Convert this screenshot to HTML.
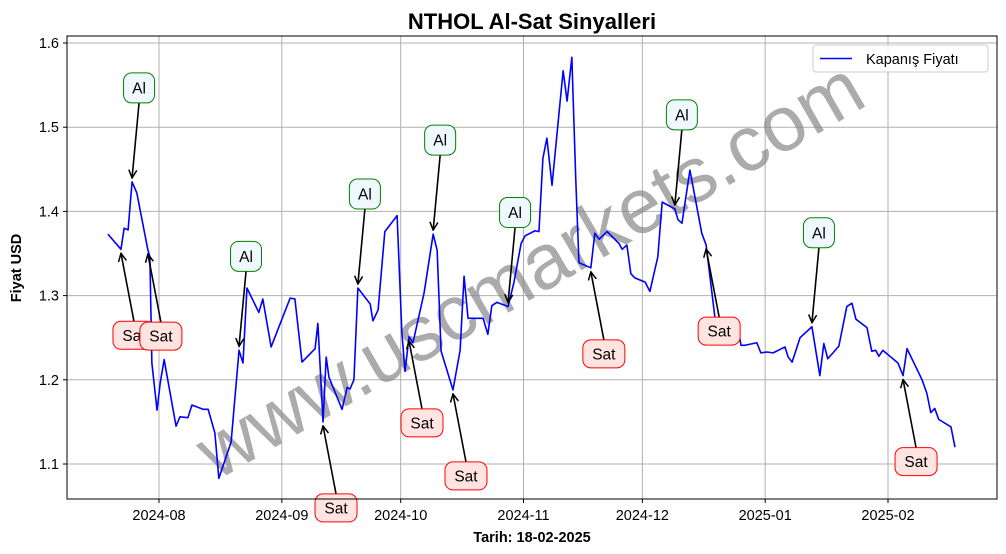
<!DOCTYPE html>
<html><head><meta charset="utf-8"><style>
html,body{margin:0;padding:0;background:#fff;}
svg{display:block;font-family:"Liberation Sans","DejaVu Sans",sans-serif;}
</style></head><body>
<svg id="chart" width="1006" height="554" viewBox="0 0 1006 554"></svg>
<script>
const dayOffsets=[-12.9,-9.6,-8.8,-7.8,-6.8,-5.6,-2.8,-2.3,-1.8,-0.5,0.3,1.3,4.3,5.3,7.3,8.3,11.1,12.4,14.1,15.1,18.2,20.2,21.2,22.2,25.2,26.2,28.3,33.1,34.3,36.1,39.4,40.1,41.4,42.2,42.9,46.2,47.5,48.2,49.2,50.2,53.3,54.0,55.3,57.0,60.1,61.3,62.1,63.1,64.1,66.9,69.2,70.2,71.2,74.2,76.0,77.0,78.0,81.8,83.0,84.0,85.3,88.1,89.6,91.4,92.4,94.9,95.9,96.9,97.9,99.2,102.0,103.0,104.2,105.2,106.0,109.0,110.0,111.1,113.1,116.1,116.9,118.1,119.1,120.1,122.7,123.9,125.9,127.0,130.2,131.0,132.0,134.0,137.0,138.1,140.6,142.1,144.1,145.9,146.9,147.9,150.9,151.9,153.5,155.0,158.0,158.8,159.8,161.8,164.8,166.8,167.8,168.8,171.6,173.6,174.9,175.9,178.7,179.9,180.9,181.7,182.7,186.5,187.8,188.8,192.6,193.8,194.8,195.8,196.8,199.9,200.9];
const prices=[1.373,1.355,1.380,1.378,1.435,1.422,1.354,1.346,1.220,1.164,1.196,1.224,1.145,1.156,1.155,1.170,1.165,1.165,1.137,1.083,1.126,1.235,1.220,1.309,1.280,1.296,1.239,1.297,1.296,1.221,1.237,1.267,1.150,1.227,1.203,1.165,1.191,1.189,1.200,1.309,1.290,1.270,1.283,1.376,1.395,1.256,1.210,1.251,1.244,1.303,1.373,1.354,1.234,1.188,1.235,1.323,1.273,1.273,1.254,1.288,1.292,1.287,1.316,1.362,1.371,1.377,1.376,1.463,1.487,1.431,1.567,1.531,1.583,1.437,1.339,1.333,1.374,1.367,1.376,1.362,1.355,1.360,1.326,1.321,1.316,1.305,1.346,1.411,1.403,1.390,1.386,1.449,1.374,1.360,1.263,1.250,1.245,1.268,1.241,1.241,1.244,1.232,1.233,1.232,1.239,1.227,1.221,1.250,1.263,1.205,1.243,1.225,1.240,1.287,1.291,1.272,1.262,1.234,1.235,1.228,1.235,1.220,1.205,1.237,1.200,1.184,1.161,1.166,1.153,1.144,1.120];
const xTickLabels=["2024-08","2024-09","2024-10","2024-11","2024-12","2025-01","2025-02"];
const xTickDays=[0,31,61,92,122,153,184];
const yTickValues=[1.1,1.2,1.3,1.4,1.5,1.6];
const signalIdx=[4,1,6,21,32,39,47,50,53,61,75,88,93,108,122];
const signalType=["Al","Sat","Sat","Al","Sat","Al","Sat","Al","Sat","Al","Sat","Al","Sat","Al","Sat"];

const L=67,R=997,T=36,B=499;
function xs(d){return 159+d*(729/184);}
function ys(v){return 464-(v-1.1)*842;}
const NS="http://www.w3.org/2000/svg";
const svg=document.getElementById('chart');
function el(tag,attrs,parent){const e=document.createElementNS(NS,tag);for(const k in attrs)e.setAttribute(k,attrs[k]);(parent||svg).appendChild(e);return e;}

xTickDays.forEach((d,i)=>{
  const g=el('line',{x1:xs(d),x2:xs(d),y1:T,y2:B,stroke:'#b0b0b0','stroke-width':1});
  
  
  el('line',{x1:xs(d),x2:xs(d),y1:B,y2:B+4,stroke:'#000'});
  const t=el('text',{x:xs(d),y:B+21,'text-anchor':'middle','font-size':14.5});
  t.textContent=xTickLabels[i];
  
  
});
yTickValues.forEach(v=>{
  const g=el('line',{x1:L,x2:R,y1:ys(v),y2:ys(v),stroke:'#b0b0b0','stroke-width':1});
  
  
  el('line',{x1:L-4,x2:L,y1:ys(v),y2:ys(v),stroke:'#000'});
  const t=el('text',{x:L-8,y:ys(v)+5,'text-anchor':'end','font-size':14.5});
  t.textContent=v.toFixed(1);
  
  
});

const wm=el('text',{x:530,y:296,'text-anchor':'middle','font-size':78,fill:'#888','fill-opacity':0.7,transform:'rotate(-30 530 270)'});
wm.textContent='www.uscmarkets.com';



const line=el('polyline',{points:prices.map((v,i)=>xs(dayOffsets[i])+','+ys(v)).join(' '),fill:'none',stroke:'#0000ff','stroke-width':1.6,'stroke-linejoin':'round'});



el('defs',{}).innerHTML='<marker id="ah" markerWidth="10" markerHeight="10" refX="9" refY="5" orient="auto" markerUnits="userSpaceOnUse"><path d="M1,1 L9,5 L1,9" fill="none" stroke="#000" stroke-width="1.5"/></marker>';
signalIdx.forEach((idx,i)=>{
  const type=signalType[i];
  const px=xs(dayOffsets[idx]),py=ys(prices[idx]);
  const bx=type==='Al'?px+7:px+13, by=type==='Al'?py-94:py+86;
  const g=el('g',{});
  
  
  const ay=type==='Al'?py-4:py+4;
  el('line',{x1:bx,y1:type==='Al'?by+15:by-14,x2:px,y2:ay,stroke:'#000','stroke-width':1.6,'marker-end':'url(#ah)'},g);
  const w=type==='Al'?31:42,h=type==='Al'?30:28;
  el('rect',{x:bx-w/2,y:by-h/2,width:w,height:h,rx:8,fill:type==='Al'?'#f0f8ff':'#ffe4e1',stroke:type==='Al'?'#008000':'#ff0000','stroke-width':1},g);
  const t=el('text',{x:bx,y:by+5.5,'text-anchor':'middle','font-size':15.5},g);
  t.textContent=type;
});

const fr=el('rect',{x:L,y:T,width:R-L,height:B-T,fill:'none',stroke:'#000','stroke-width':1});



const lg=el('g',{});


el('rect',{x:813,y:45,width:175,height:27,rx:3,fill:'#fff','fill-opacity':0.85,stroke:'#ccc'},lg);
el('line',{x1:820,x2:852,y1:58.5,y2:58.5,stroke:'#0000ff','stroke-width':1.6},lg);
const lt=el('text',{x:866,y:64,'font-size':14.5},lg);
lt.textContent='Kapanış Fiyatı';

const tt=el('text',{x:532,y:29,'text-anchor':'middle','font-size':22,'font-weight':'bold'});
tt.textContent='NTHOL Al-Sat Sinyalleri';


const xl=el('text',{x:532,y:542,'text-anchor':'middle','font-size':14.5,'font-weight':'bold'});
xl.textContent='Tarih: 18-02-2025';


const yl=el('text',{x:21,y:268,'text-anchor':'middle','font-size':14.5,'font-weight':'bold',transform:'rotate(-90 21 268)'});
yl.textContent='Fiyat USD';


</script>
</body></html>
